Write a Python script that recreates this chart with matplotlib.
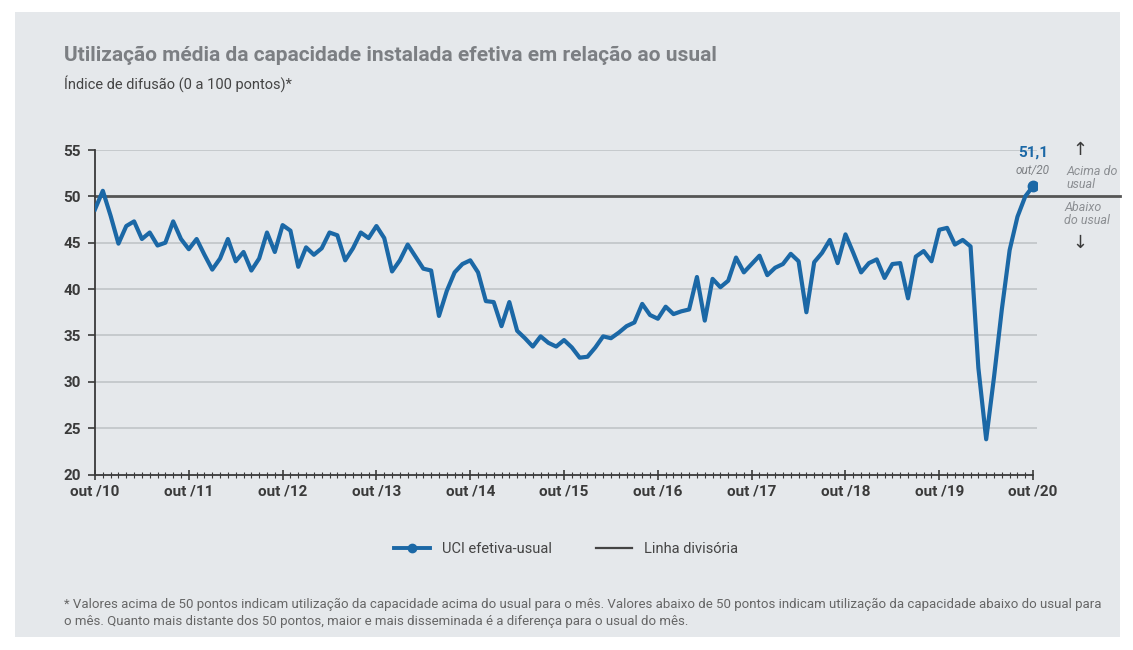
import matplotlib
matplotlib.use("Agg")
import matplotlib.pyplot as plt
from matplotlib.lines import Line2D
from matplotlib.patches import Rectangle

# UCI efetiva-usual, monthly, out/10 .. out/20
uci = [48.6, 50.6, 47.9, 44.9, 46.8, 47.3, 45.4, 46.1, 44.7, 45.0, 47.3, 45.4,
       44.3, 45.4, 43.7, 42.1, 43.3, 45.4, 43.0, 44.0, 42.0, 43.3, 46.1, 44.0,
       46.9, 46.3, 42.4, 44.5, 43.7, 44.4, 46.1, 45.8, 43.1, 44.4, 46.1, 45.5,
       46.8, 45.5, 41.9, 43.1, 44.8, 43.5, 42.2, 42.0, 37.1, 39.8, 41.8, 42.7,
       43.1, 41.8, 38.7, 38.6, 36.0, 38.6, 35.5, 34.7, 33.8, 34.9, 34.2, 33.8,
       34.5, 33.7, 32.6, 32.7, 33.7, 34.9, 34.7, 35.3, 36.0, 36.4, 38.4, 37.2,
       36.8, 38.1, 37.3, 37.6, 37.8, 41.3, 36.6, 41.1, 40.2, 40.9, 43.4, 41.8,
       42.7, 43.6, 41.5, 42.3, 42.7, 43.8, 43.0, 37.5, 42.9, 43.9, 45.3, 42.8,
       45.9, 43.9, 41.8, 42.8, 43.2, 41.2, 42.7, 42.8, 39.0, 43.5, 44.1, 43.0,
       46.4, 46.6, 44.8, 45.3, 44.6, 31.5, 23.8, 30.5, 37.8, 44.2, 47.8, 50.0,
       51.1]
tick_labels = ["out /10", "out /11", "out /12", "out /13", "out /14", "out /15",
               "out /16", "out /17", "out /18", "out /19", "out /20"]
y_ticks = [20, 25, 30, 35, 40, 45, 50, 55]
divisoria = 50

plt.rcParams['font.family'] = ['Roboto', 'DejaVu Sans']

blue = '#1b68a6'
bg = '#e5e8eb'
dark = '#3a3a3a'
grey_txt = '#7c7f83'

fig = plt.figure(figsize=(11.33, 6.5), dpi=100, facecolor='white')
fig.patches.append(Rectangle((15/1133, 13/650), 1105/1133, 625/650,
                             transform=fig.transFigure, facecolor=bg,
                             edgecolor='none', zorder=-10))

ax = fig.add_axes([95/1133, 1-474.5/650, (1037-95)/1133, (474.5-150)/650])
ax.set_facecolor('none')
ax.set_zorder(5)
x = list(range(len(uci)))

for v in y_ticks:
    if v != divisoria and v != 20:
        ax.axhline(v, color='#bdc1c5', lw=1.1, zorder=1)
ax.axhline(divisoria, xmin=0, xmax=(1120-95)/(1037-95), color='#555555',
           lw=2, zorder=2, clip_on=False)

ax.plot(x, uci, color=blue, lw=3, zorder=3, solid_joinstyle='round')
ax.plot(x[-1], uci[-1], 'o', color=blue, ms=7.5, zorder=4)

ax.set_xlim(0, 120.5)
ax.set_ylim(20, 55)
for s in ['top', 'right']:
    ax.spines[s].set_visible(False)
ax.spines['left'].set_color(dark)
ax.spines['bottom'].set_color(dark)
ax.spines['left'].set_linewidth(1.3)
ax.spines['bottom'].set_linewidth(1.3)
ax.spines['bottom'].set_bounds(0, 120)

ax.set_yticks(y_ticks)
ax.set_yticklabels([str(v) for v in y_ticks], fontsize=11, fontweight='bold', color=dark)
ax.tick_params(axis='y', length=5, width=1.2, color=dark, pad=5)
ax.set_xticks(range(0, 121, 12))
ax.set_xticklabels(tick_labels, fontsize=11, fontweight='bold', color=dark)
ax.set_xticks(range(0, 121), minor=True)
ax.tick_params(axis='x', which='major', direction='inout', length=7, width=1.2,
               color=dark, pad=4)
ax.tick_params(axis='x', which='minor', direction='inout', length=4, width=0.8,
               color=dark)

ax.annotate('51,1', (x[-1], uci[-1]), xytext=(0, 19), textcoords='offset points',
            ha='center', va='bottom', fontsize=11, fontweight='bold', color=blue)
ax.annotate('out/20', (x[-1], uci[-1]), xytext=(0, 6.5), textcoords='offset points',
            ha='center', va='bottom', fontsize=8.5, style='italic', color=grey_txt)

fig.text(1080/1133, 1-150/650, '↑', ha='center', va='center', fontsize=13,
         color=dark, family='DejaVu Sans')
fig.text(1066/1133, 1-178/650, 'Acima do\nusual', ha='left', va='center',
         fontsize=9, style='italic', color='#8c8f93', linespacing=0.95)
fig.text(1064/1133, 1-214/650, 'Abaixo\ndo usual', ha='left', va='center',
         fontsize=9, style='italic', color='#8c8f93', linespacing=0.95)
fig.text(1080/1133, 1-243/650, '↓', ha='center', va='center', fontsize=13,
         color=dark, family='DejaVu Sans')

fig.text(64/1133, 1-55/650, 'Utilização média da capacidade instalada efetiva em relação ao usual',
         ha='left', va='center', fontsize=15, fontweight='bold', color=grey_txt)
fig.text(64/1133, 1-84/650, 'Índice de difusão (0 a 100 pontos)*',
         ha='left', va='center', fontsize=10.5, color='#444444')

handles = [Line2D([], [], color=blue, lw=2.8, marker='o', ms=6),
           Line2D([], [], color='#444444', lw=1.6)]
fig.legend(handles, ['UCI efetiva-usual', 'Linha divisória'], loc='center',
           bbox_to_anchor=(566/1133, 1-549/650), ncol=2, frameon=False,
           fontsize=10.5, handlelength=2.5, columnspacing=3, labelcolor='#444444')

fig.text(64/1133, 1-604/650,
         '* Valores acima de 50 pontos indicam utilização da capacidade acima do usual para o mês. '
         'Valores abaixo de 50 pontos indicam utilização da capacidade abaixo do usual para',
         ha='left', va='center', fontsize=9.5, color='#666666')
fig.text(64/1133, 1-622/650,
         'o mês. Quanto mais distante dos 50 pontos, maior e mais disseminada é a diferença para o usual do mês.',
         ha='left', va='center', fontsize=9.5, color='#666666')

fig.savefig('out.png', dpi=100, facecolor='white')
